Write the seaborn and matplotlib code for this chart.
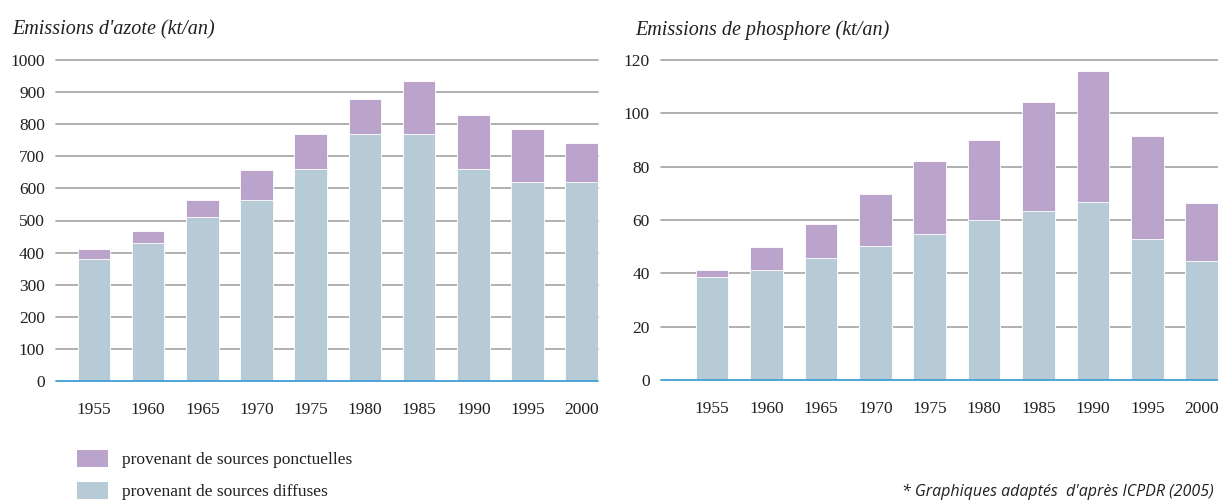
import matplotlib
matplotlib.use("Agg")
import matplotlib.pyplot as plt
from matplotlib.patches import Patch
import seaborn as sns
import pandas as pd

years = ["1955", "1960", "1965", "1970", "1975", "1980", "1985", "1990", "1995", "2000"]
n_diffuse = [380, 430, 510, 565, 660, 770, 770, 660, 620, 620]
n_total = [410, 467, 565, 658, 770, 880, 935, 830, 785, 740]
p_diffuse = [38.6, 41.2, 45.6, 50.1, 54.6, 60.0, 63.4, 66.7, 52.9, 44.6]
p_total = [41.2, 50.0, 58.4, 69.7, 82.1, 90.0, 104.4, 115.9, 91.6, 66.3]

n_ticks = [0, 100, 200, 300, 400, 500, 600, 700, 800, 900, 1000]
p_ticks = [0, 20, 40, 60, 80, 100, 120]

title_n = "Emissions d'azote (kt/an)"
title_p = "Emissions de phosphore (kt/an)"
label_point = "provenant de sources ponctuelles"
label_diffuse = "provenant de sources diffuses"
footnote = "* Graphiques adaptés  d'après ICPDR (2005)"

PURPLE = "#bba4cc"
BLUE = "#b7cbd6"
GRID = "#a3a3a3"
BASE = "#3f9fd3"
TEXT = "#231f20"
SERIF = "Liberation Serif"

sns.set_theme(style="white")
plt.rcParams["font.family"] = [SERIF, "DejaVu Sans"]

fig = plt.figure(figsize=(12.18, 5.0), dpi=100)
ax1 = fig.add_axes([56 / 1218, 119 / 500, (598 - 56) / 1218, 321 / 500])
ax2 = fig.add_axes([661 / 1218, 120 / 500, (1218 - 661) / 1218, 320 / 500])


def draw(ax, diffuse, total, ticks, ymax, xleft):
    df = pd.DataFrame({"year": years, "diffuse": diffuse, "total": total})
    sns.barplot(data=df, x="year", y="total", color=PURPLE, saturation=1, width=0.6,
                edgecolor="white", linewidth=0.6, ax=ax, zorder=3)
    sns.barplot(data=df, x="year", y="diffuse", color=BLUE, saturation=1, width=0.6,
                edgecolor="white", linewidth=0.6, ax=ax, zorder=3)
    ax.set_xlim(xleft, 9.3)
    ax.set_ylim(0, ymax)
    ax.set_yticks(ticks)
    ax.set_yticklabels([str(t) for t in ticks])
    for t in ticks[1:]:
        ax.axhline(t, color=GRID, lw=1.2, zorder=1, clip_on=False)
    ax.axhline(0, color=BASE, lw=1.3, zorder=4, clip_on=False)
    for s in ax.spines.values():
        s.set_visible(False)
    ax.set_xlabel("")
    ax.set_ylabel("")
    ax.tick_params(axis="x", length=0, pad=15, labelsize=12.5, labelcolor=TEXT)
    ax.tick_params(axis="y", length=0, pad=8, labelsize=12.5, labelcolor=TEXT)
    ax.grid(False)
    ax.set_facecolor("none")


draw(ax1, n_diffuse, n_total, n_ticks, 1000, -0.70)
draw(ax2, p_diffuse, p_total, p_ticks, 120, -0.94)

fig.text(12 / 1218, 1 - 30 / 500, title_n, fontsize=14.5, style="italic",
         color=TEXT, va="center", ha="left")
fig.text(635 / 1218, 1 - 30 / 500, title_p, fontsize=14.5, style="italic",
         color=TEXT, va="center", ha="left")

handles = [Patch(facecolor=PURPLE, edgecolor="none"), Patch(facecolor=BLUE, edgecolor="none")]
fig.legend(handles, [label_point, label_diffuse], loc="upper left",
           bbox_to_anchor=(70 / 1218, 1 - 443 / 500), frameon=False,
           fontsize=12.5, handlelength=1.8, handleheight=1.1, labelspacing=0.8,
           handletextpad=0.8, borderaxespad=0, labelcolor=TEXT)

fig.text(1214 / 1218, 1 - 492 / 500, footnote, fontsize=11.5, style="italic",
         family=["Open Sans", "DejaVu Sans"], color=TEXT, ha="right", va="center")

fig.savefig("out.png", dpi=100)
